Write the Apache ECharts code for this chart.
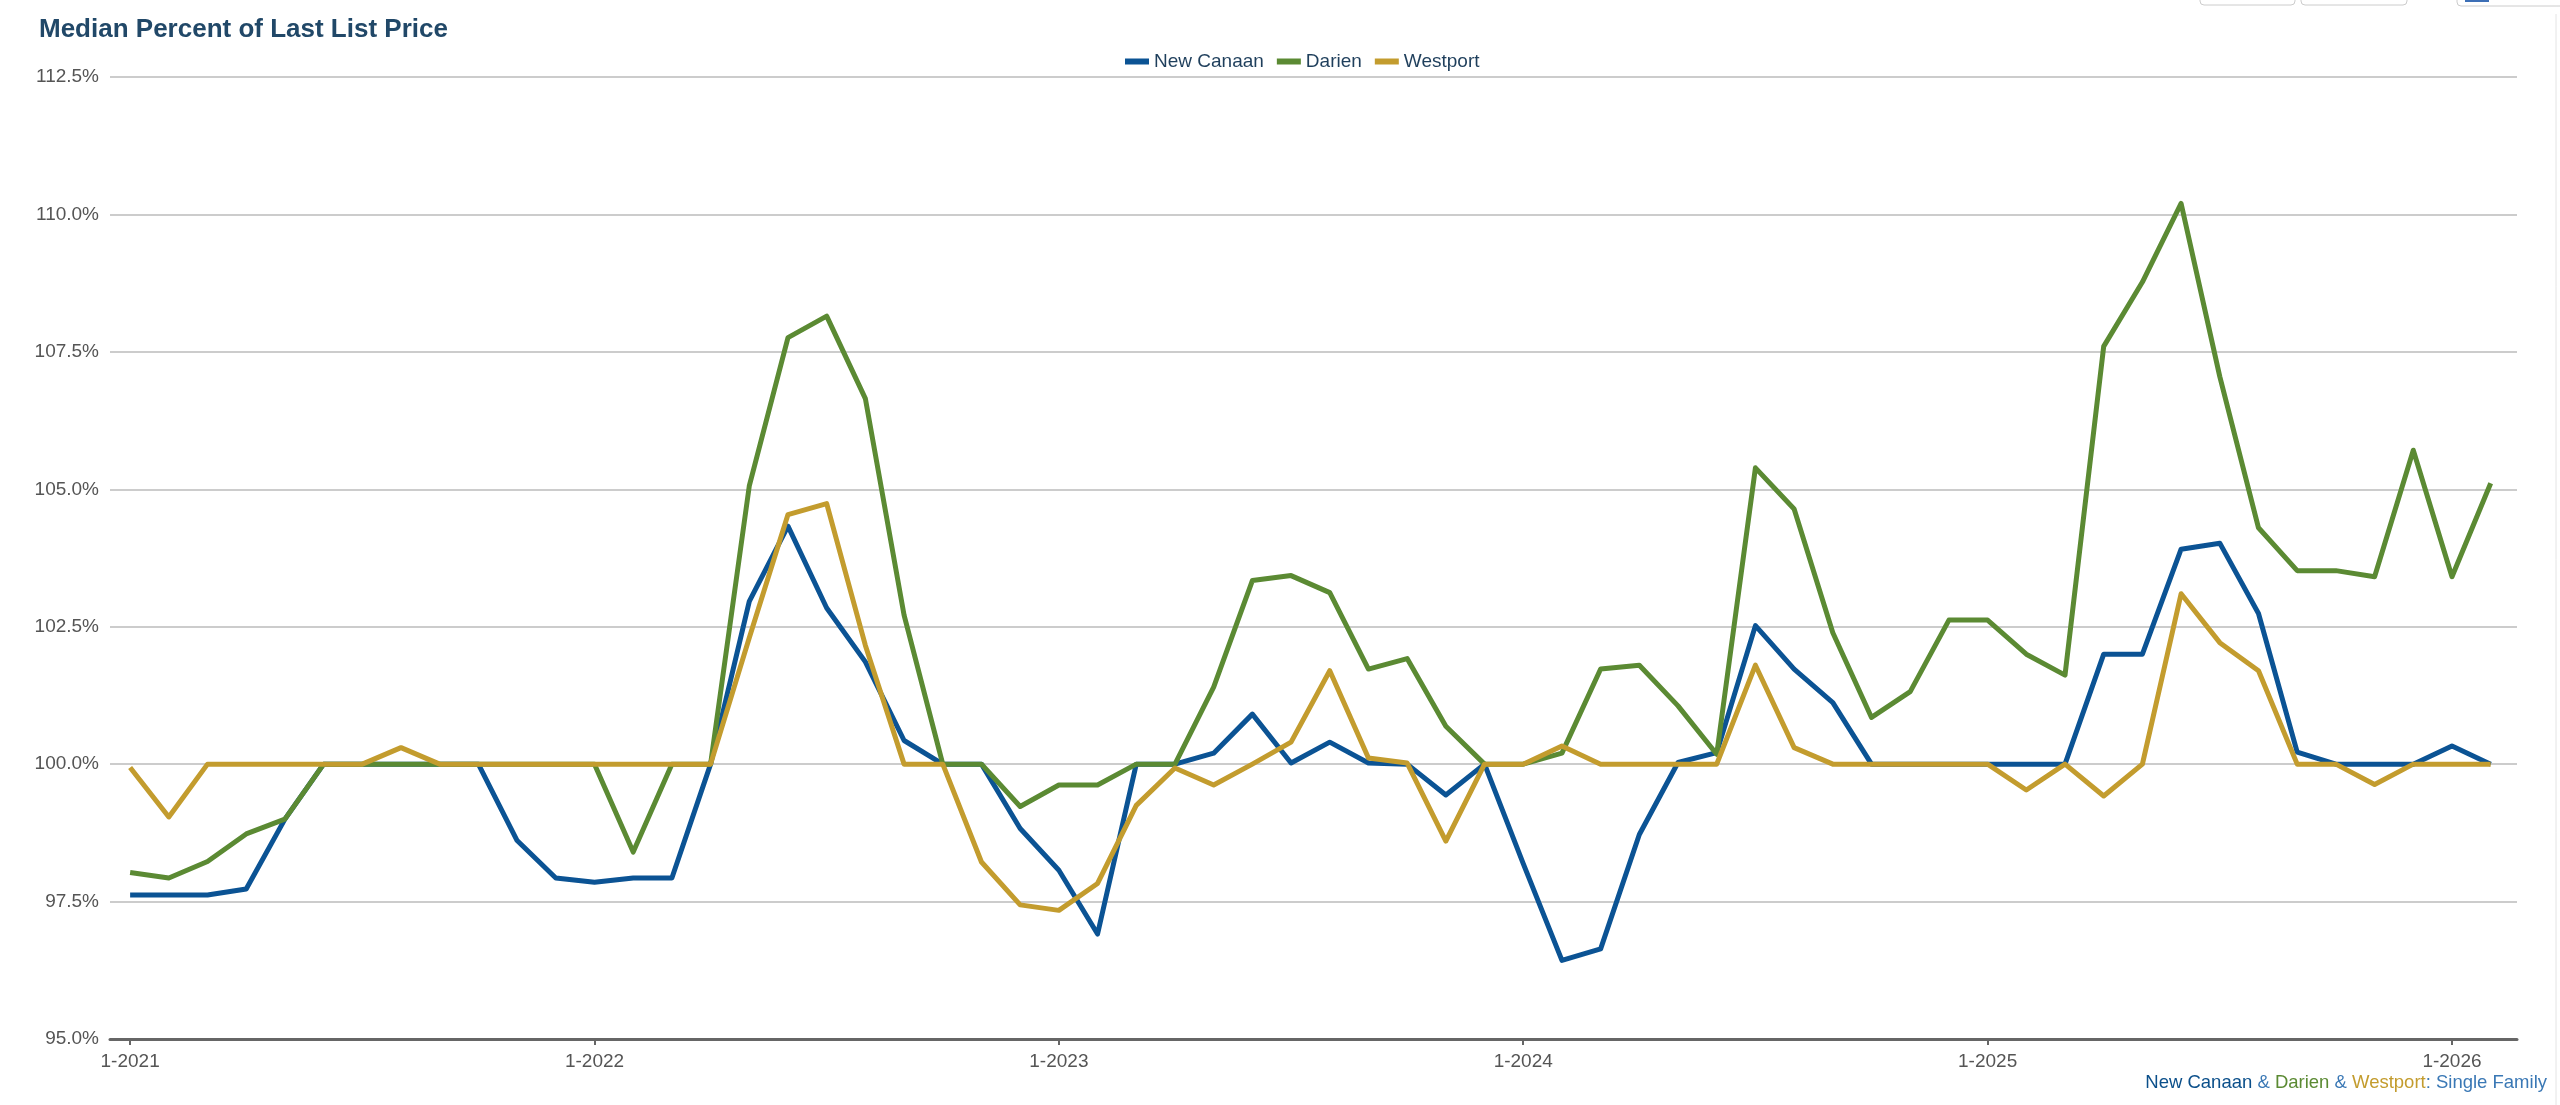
<!DOCTYPE html>
<html>
<head>
<meta charset="utf-8">
<script src="https://cdn.jsdelivr.net/npm/echarts@6/dist/echarts.min.js"></script>
<style>
  html, body { margin: 0; padding: 0; background: #fff; }
  #chart { width: 2560px; height: 1105px; }
</style>
</head>
<body>
<div id="chart"></div>
<script>
// monthly points, 1-2021 .. 2-2026
const months = [
  "1-2021","2-2021","3-2021","4-2021","5-2021","6-2021","7-2021","8-2021","9-2021","10-2021","11-2021","12-2021",
  "1-2022","2-2022","3-2022","4-2022","5-2022","6-2022","7-2022","8-2022","9-2022","10-2022","11-2022","12-2022",
  "1-2023","2-2023","3-2023","4-2023","5-2023","6-2023","7-2023","8-2023","9-2023","10-2023","11-2023","12-2023",
  "1-2024","2-2024","3-2024","4-2024","5-2024","6-2024","7-2024","8-2024","9-2024","10-2024","11-2024","12-2024",
  "1-2025","2-2025","3-2025","4-2025","5-2025","6-2025","7-2025","8-2025","9-2025","10-2025","11-2025","12-2025",
  "1-2026","2-2026"
];

const newCanaan = [
  97.62, 97.62, 97.62, 97.73, 99.0, 100, 100, 100, 100, 100, 98.61, 97.93,
  97.85, 97.93, 97.93, 100, 102.96, 104.33, 102.84, 101.86, 100.43, 100, 100, 98.83,
  98.07, 96.91, 100, 100, 100.2, 100.91, 100.02, 100.4, 100.02, 100, 99.44, 100,
  98.19, 96.43, 96.64, 98.72, 100.03, 100.21, 102.52, 101.73, 101.12, 100, 100, 100,
  100, 100, 100, 102.0, 102.0, 103.91, 104.02, 102.74, 100.22, 100, 100, 100,
  100.33, 100
];

const darien = [
  98.03, 97.93, 98.23, 98.73, 99.0, 100, 100, 100, 100, 100, 100, 100,
  100, 98.4, 100, 100, 105.06, 107.76, 108.15, 106.65, 102.71, 100, 100, 99.23,
  99.62, 99.62, 100, 100, 101.4, 103.34, 103.43, 103.12, 101.73, 101.92, 100.69, 100,
  100, 100.2, 101.73, 101.8, 101.06, 100.18, 105.39, 104.64, 102.39, 100.85, 101.32, 102.62,
  102.62, 102.0, 101.62, 107.6, 108.77, 110.2, 107.05, 104.3, 103.52, 103.52, 103.41, 105.71,
  103.41, 105.11
];

const westport = [
  99.94, 99.04, 100, 100, 100, 100, 100, 100.3, 100, 100, 100, 100,
  100, 100, 100, 100, 102.3, 104.54, 104.74, 102.16, 100, 100, 98.22, 97.44,
  97.34, 97.83, 99.25, 99.93, 99.62, 100.0, 100.4, 101.7, 100.11, 100.02, 98.6, 100,
  100, 100.33, 100, 100, 100, 100, 101.8, 100.3, 100, 100, 100, 100,
  100, 99.53, 100, 99.42, 100, 103.1, 102.21, 101.7, 100, 100, 99.63, 100,
  100, 100
];

const xTickIdx = [0, 12, 24, 36, 48, 60];

const chart = echarts.init(document.getElementById("chart"));

const toPts = (arr) => arr.map((v, i) => [i, v]);

const lineSeries = (name, arr, color) => ({
  name: name,
  type: "line",
  data: toPts(arr),
  symbol: "none",
  lineStyle: { color: color, width: 5, join: "round" },
  itemStyle: { color: color },
  emphasis: { disabled: true },
  animation: false
});

const option = {
  backgroundColor: "#fff",
  title: {
    text: "Median Percent of Last List Price",
    left: 34,
    top: 12,
    textStyle: { fontFamily: "Liberation Sans", fontWeight: "bold", fontSize: 26, color: "#214868" }
  },
  legend: {
    top: 47,
    left: 1120,
    itemWidth: 24,
    itemHeight: 6,
    itemGap: 13,
    icon: "rect",
    textStyle: { fontFamily: "Liberation Sans", fontSize: 19, color: "#1f3f5c" },
    data: ["New Canaan", "Darien", "Westport"]
  },
  grid: { left: 110, right: 43, top: 77, bottom: 66 },
  xAxis: {
    type: "value",
    min: -0.52,
    max: 61.68,
    axisLine: { show: true, lineStyle: { color: "#666", width: 3 } },
    axisTick: {
      show: true,
      customValues: xTickIdx,
      length: 6,
      lineStyle: { color: "#666", width: 2 }
    },
    axisLabel: {
      customValues: xTickIdx,
      formatter: (v) => months[Math.round(v)],
      fontFamily: "Liberation Sans",
      fontSize: 19,
      color: "#555",
      margin: 13
    },
    splitLine: { show: false }
  },
  yAxis: {
    type: "value",
    min: 95,
    max: 112.5,
    interval: 2.5,
    axisLine: { show: false },
    axisTick: { show: false },
    axisLabel: {
      formatter: (v) => v.toFixed(1) + "%",
      fontFamily: "Liberation Sans",
      fontSize: 19,
      color: "#555",
      margin: 11
    },
    splitLine: { lineStyle: { color: "#bbb", width: 1.5 } }
  },
  series: [
    lineSeries("New Canaan", newCanaan, "#0b5394"),
    lineSeries("Darien", darien, "#5b8a33"),
    lineSeries("Westport", westport, "#c39c2e")
  ],
  graphic: [
    {
      type: "text",
      right: 13,
      top: 1073,
      style: {
        text: "{nc|New Canaan}{sep| & }{da|Darien}{sep| & }{wp|Westport}{sf|: Single Family}",
        font: "18.5px Liberation Sans",
        rich: {
          nc: { fill: "#0b4f8a", font: "18.5px Liberation Sans" },
          sep: { fill: "#3a78b5", font: "18.5px Liberation Sans" },
          da: { fill: "#5b8a33", font: "18.5px Liberation Sans" },
          wp: { fill: "#c39c2e", font: "18.5px Liberation Sans" },
          sf: { fill: "#3a78b5", font: "18.5px Liberation Sans" }
        }
      }
    },
    // page chrome at the top right
    { type: "rect", shape: { x: 2200, y: -10, width: 95, height: 15, r: 4 }, style: { fill: "none", stroke: "#ccc", lineWidth: 1 } },
    { type: "rect", shape: { x: 2301, y: -10, width: 106, height: 15, r: 4 }, style: { fill: "none", stroke: "#ccc", lineWidth: 1 } },
    { type: "rect", shape: { x: 2457, y: -10, width: 120, height: 16, r: 4 }, style: { fill: "none", stroke: "#ccc", lineWidth: 1 } },
    { type: "rect", shape: { x: 2465, y: 0, width: 24, height: 2 }, style: { fill: "#3d6fb6" } },
    { type: "line", shape: { x1: 2556, y1: 14, x2: 2556, y2: 1105 }, style: { stroke: "#e4e4e4", lineWidth: 1 } }
  ]
};

chart.setOption(option);
</script>
</body>
</html>
